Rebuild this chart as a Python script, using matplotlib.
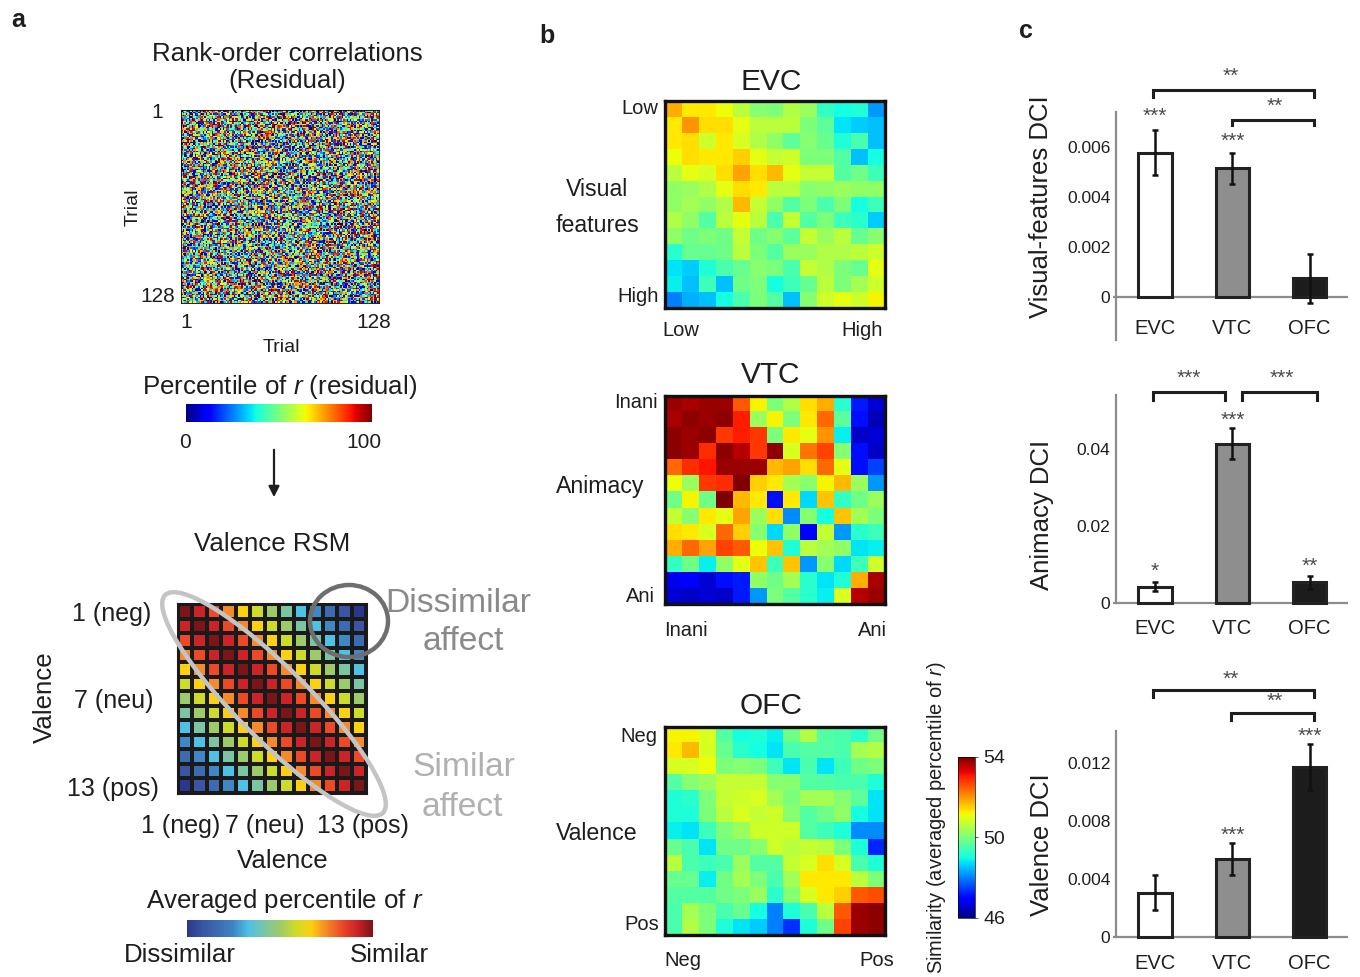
import numpy as np
import matplotlib
matplotlib.use("Agg")
import matplotlib.pyplot as plt
from matplotlib.colors import ListedColormap, LinearSegmentedColormap
from matplotlib.patches import Ellipse

plt.rcParams['font.family'] = ['Liberation Sans', 'DejaVu Sans']
plt.rcParams['mathtext.fontset'] = 'custom'
plt.rcParams['mathtext.rm'] = 'Liberation Sans'
plt.rcParams['mathtext.it'] = 'Liberation Sans:italic'

# ---- data ----
n_trials = 128
valence_levels = np.arange(1, 14)

# RSM colours by valence distance 0..12 (similar -> dissimilar)
rsm_colors = ['#7b1518', '#cc2329', '#ec4a26', '#f6892a', '#fdd10f', '#cddc29',
              '#9dcb6b', '#7cc5a3', '#4ec2e6', '#3f87c7', '#3d6bb2', '#3955a3', '#29388e']

evc = [
    [51.8, 51.3, 51.3, 51.1, 50.6, 50.1, 50.0, 50.5, 50.3, 49.3, 49.0, 49.1, 48.2],
    [51.3, 52.0, 51.4, 51.4, 51.0, 50.6, 50.6, 50.6, 50.0, 49.7, 48.8, 48.6, 48.5],
    [51.3, 51.4, 50.8, 51.3, 50.9, 50.5, 50.2, 49.7, 50.1, 49.8, 49.1, 49.5, 48.5],
    [51.1, 51.4, 51.3, 51.3, 51.5, 51.0, 50.7, 50.8, 50.0, 50.0, 49.6, 48.5, 49.0],
    [50.6, 51.0, 50.9, 51.4, 51.9, 51.4, 51.7, 51.0, 50.7, 50.7, 49.6, 49.9, 49.4],
    [50.2, 50.3, 50.5, 51.0, 51.4, 51.3, 50.6, 50.6, 50.1, 50.2, 50.3, 50.2, 50.2],
    [50.2, 50.4, 50.2, 50.5, 51.7, 50.7, 50.2, 49.6, 50.0, 49.5, 50.0, 49.0, 49.4],
    [50.5, 50.2, 49.6, 50.6, 51.0, 50.6, 49.5, 50.7, 49.6, 50.0, 49.4, 49.2, 48.6],
    [50.2, 49.9, 50.0, 49.9, 50.7, 49.9, 50.1, 49.7, 50.7, 50.3, 50.6, 49.8, 50.1],
    [49.2, 49.8, 49.8, 49.9, 50.6, 50.0, 49.6, 50.3, 50.3, 50.5, 50.5, 50.6, 50.8],
    [48.8, 48.6, 49.1, 49.5, 49.8, 50.1, 50.0, 49.5, 50.7, 50.5, 50.0, 49.8, 51.0],
    [48.9, 48.5, 49.4, 48.5, 49.9, 50.0, 49.0, 49.4, 49.8, 50.6, 50.0, 50.4, 50.8],
    [48.0, 48.4, 48.5, 49.0, 49.5, 50.0, 49.6, 48.5, 50.1, 50.8, 51.0, 50.8, 51.2],
]

vtc = [
    [53.8, 53.7, 53.8, 53.8, 52.5, 51.2, 50.0, 50.5, 51.4, 51.8, 49.2, 47.2, 46.6],
    [53.7, 53.9, 53.8, 53.9, 53.0, 50.3, 51.2, 50.0, 51.3, 52.4, 49.7, 47.1, 46.4],
    [53.9, 53.8, 53.9, 52.8, 53.0, 52.8, 50.0, 51.3, 51.0, 52.0, 48.9, 46.5, 46.6],
    [53.9, 53.8, 52.9, 53.9, 53.6, 52.8, 53.9, 50.9, 52.3, 52.7, 50.1, 47.1, 46.5],
    [52.4, 52.9, 53.1, 53.8, 53.8, 53.8, 51.7, 51.9, 51.4, 52.4, 51.0, 47.1, 47.5],
    [51.1, 50.3, 52.8, 52.9, 54.0, 51.5, 51.3, 50.4, 50.1, 51.2, 51.7, 50.3, 48.2],
    [49.9, 51.2, 49.9, 54.0, 51.7, 51.3, 47.1, 51.3, 48.7, 51.6, 49.3, 49.9, 50.3],
    [50.7, 50.1, 51.3, 51.0, 51.9, 50.3, 51.4, 48.1, 50.1, 49.0, 51.6, 50.4, 50.0],
    [51.4, 51.3, 50.9, 52.4, 51.5, 50.1, 48.7, 50.2, 47.0, 50.7, 48.2, 49.2, 49.4],
    [51.8, 52.4, 51.9, 52.7, 52.5, 51.1, 51.6, 49.1, 50.6, 50.4, 50.2, 48.8, 48.9],
    [49.3, 49.9, 48.9, 50.2, 51.0, 51.6, 49.4, 51.6, 48.2, 50.1, 48.7, 49.4, 50.8],
    [46.8, 46.9, 46.6, 47.1, 47.2, 50.2, 49.9, 50.4, 49.2, 48.8, 49.1, 51.8, 53.7],
    [46.6, 46.5, 46.6, 46.5, 47.2, 48.2, 50.0, 49.6, 49.2, 48.9, 50.9, 53.6, 53.8],
]

ofc = [
    [51.2, 51.2, 50.9, 49.6, 49.0, 49.1, 48.9, 49.9, 50.5, 49.6, 49.5, 49.2, 49.9],
    [51.3, 51.7, 50.9, 49.8, 49.2, 49.0, 48.8, 49.5, 49.6, 49.6, 49.5, 50.4, 50.5],
    [50.9, 50.9, 51.1, 50.0, 50.1, 50.0, 49.4, 48.8, 49.5, 48.8, 49.4, 49.9, 50.0],
    [49.6, 50.1, 50.3, 50.7, 50.7, 50.7, 50.1, 50.1, 49.6, 49.6, 49.5, 49.5, 49.1],
    [49.1, 49.2, 50.0, 50.7, 50.8, 50.9, 50.4, 50.0, 50.4, 50.4, 50.1, 49.7, 48.8],
    [49.1, 49.1, 50.0, 50.6, 50.9, 50.7, 50.8, 50.1, 49.6, 49.9, 50.2, 49.0, 48.8],
    [48.9, 48.8, 49.4, 50.0, 50.3, 50.8, 50.8, 50.8, 49.6, 49.4, 49.1, 48.1, 48.1],
    [49.8, 49.5, 48.8, 49.9, 49.9, 50.1, 50.8, 50.6, 50.7, 50.6, 50.0, 49.1, 47.3],
    [50.6, 49.5, 49.4, 49.5, 50.3, 49.6, 49.6, 50.7, 50.9, 51.4, 50.9, 49.5, 49.1],
    [49.8, 49.8, 48.9, 49.9, 50.4, 50.0, 49.5, 50.4, 51.3, 51.3, 51.3, 50.6, 50.0],
    [49.6, 49.6, 49.6, 49.9, 50.0, 50.3, 49.2, 50.1, 50.9, 51.3, 51.5, 52.5, 52.6],
    [49.5, 50.4, 50.0, 49.5, 49.8, 49.0, 48.0, 49.1, 49.5, 50.6, 52.5, 53.8, 53.9],
    [49.5, 50.5, 50.0, 49.1, 48.8, 48.6, 48.0, 47.4, 49.1, 49.9, 52.7, 53.8, 53.9],
]

regions = ['EVC', 'VTC', 'OFC']
bar_colors = ['white', '#8e8e8e', '#1c1c1c']
visual_dci = [0.00576, 0.00514, 0.00073]
visual_err = [0.00089, 0.00062, 0.00098]
animacy_dci = [0.0043, 0.0413, 0.0055]
animacy_err = [0.0012, 0.0040, 0.0017]
valence_dci = [0.00303, 0.00536, 0.01172]
valence_err = [0.00120, 0.00108, 0.00160]

# ---- layout helpers ----
W, H = 1360, 977
fig = plt.figure(figsize=(W / 100, H / 100), dpi=100)
TXT = '#1e1e1e'


def px_axes(x0, y0, x1, y1):
    return fig.add_axes([x0 / W, 1 - y1 / H, (x1 - x0) / W, (y1 - y0) / H])


# ---- panel a ----
# residual rank-order percentiles (texture built by integer hashing of trial indices)
i, j = np.meshgrid(np.arange(n_trials, dtype=np.int64), np.arange(n_trials, dtype=np.int64),
                   indexing='ij')
h = (i * 73856093) ^ (j * 19349663) ^ ((i * j) * 83492791)
h = (h ^ (h >> 13)) * 1274126177
resid = ((h >> 7) % 101).astype(float)
ax = px_axes(181, 110, 379, 303)
ax.imshow(resid, cmap='jet', aspect='auto', interpolation='nearest', vmin=0, vmax=100)
ax.set_xticks([]); ax.set_yticks([])
for s in ax.spines.values():
    s.set_linewidth(0.6)

grad = np.linspace(0, 1, 256)[None, :]
cb1 = px_axes(186, 404, 371, 422)
cb1.imshow(grad, cmap='jet', aspect='auto')
cb1.set_xticks([]); cb1.set_yticks([])
for s in cb1.spines.values():
    s.set_visible(False)

dist = np.abs(valence_levels[:, None] - valence_levels[None, :])
ax = px_axes(178, 604, 366, 793)
ax.set_facecolor('#1a1a1a')
ax.pcolormesh(dist, cmap=ListedColormap(rsm_colors), vmin=-0.5, vmax=12.5,
              edgecolors='#1a1a1a', linewidth=1.7)
ax.set_xlim(0, 13); ax.set_ylim(13, 0)
ax.set_xticks([]); ax.set_yticks([])
for s in ax.spines.values():
    s.set_linewidth(2.2)
    s.set_color('#1a1a1a')

cb2 = px_axes(187, 920, 372, 937)
cb2.imshow(grad, cmap=LinearSegmentedColormap.from_list('rsm', rsm_colors[::-1]), aspect='auto')
cb2.set_xticks([]); cb2.set_yticks([])
for s in cb2.spines.values():
    s.set_visible(False)

# ---- panel b ----
jet_norm = dict(cmap='jet', vmin=46, vmax=54, interpolation='nearest', aspect='auto')
heat_boxes = [(evc, (665, 101, 885, 308)), (vtc, (665, 396, 885, 604)), (ofc, (665, 727, 885, 935))]
for mat, box in heat_boxes:
    ax = px_axes(*box)
    im = ax.imshow(np.array(mat), **jet_norm)
    ax.set_xticks([]); ax.set_yticks([])
    for s in ax.spines.values():
        s.set_linewidth(2.4)
        s.set_color('#111111')

cax = px_axes(958, 757, 975, 918)
cbar = fig.colorbar(im, cax=cax, ticks=[46, 50, 54])
cbar.outline.set_linewidth(0.5)
cax.tick_params(labelsize=14, length=2, width=0.5, colors=TXT, pad=4)

# ---- panel c ----
def bar_panel(box, vals, errs, ylim, ticks, ticklabels, ybottom_spine, xlab_off):
    ax = px_axes(*box)
    x = np.arange(len(regions))
    ax.bar(x, vals, width=0.43, color=bar_colors, edgecolor='#222222', linewidth=2.2, zorder=2)
    ax.errorbar(x, vals, yerr=errs, fmt='none', ecolor='#111111', elinewidth=1.8,
                capsize=2.5, capthick=1.8, zorder=3)
    ax.axhline(0, color='#8c8c8c', lw=1.6, zorder=1)
    ax.set_xlim(-0.543, 2.495)
    ax.set_ylim(*ylim)
    for k in ['top', 'right', 'bottom']:
        ax.spines[k].set_visible(False)
    ax.spines['left'].set_position(('data', -0.504))
    ax.spines['left'].set_color('#8c8c8c')
    ax.spines['left'].set_linewidth(1.6)
    ax.spines['left'].set_bounds(ybottom_spine, ylim[1])
    ax.set_facecolor('none')
    ax.set_xticks([])
    ax.set_yticks(ticks)
    ax.set_yticklabels(ticklabels)
    ax.tick_params(axis='y', labelsize=12.5, length=0, pad=4, colors=TXT)
    for xi, name in zip(x, regions):
        ax.annotate(name, (xi, 0), xytext=(0, -xlab_off), textcoords='offset pixels',
                    ha='center', va='center', fontsize=14.5, color=TXT, annotation_clip=False)
    return ax


STAR_FS = 15


def star(ax, xi, top, txt, off=10):
    ax.annotate(txt, (xi, top), xytext=(0, off), textcoords='offset pixels', ha='center',
                va='center', fontsize=STAR_FS, color='#4a4a4a', annotation_clip=False)


def bracket(ax, x0, x1, y, ytick, label, xlab, off=14):
    ax.plot([x0, x0, x1, x1], [ytick, y, y, ytick], color='#1e1e1e', lw=2.2, clip_on=False,
            solid_joinstyle='miter')
    ax.annotate(label, (xlab, y), xytext=(0, off), textcoords='offset pixels', ha='center',
                va='center', fontsize=STAR_FS, color='#4a4a4a', annotation_clip=False)


ax1 = bar_panel((1113, 111.7, 1348, 340), visual_dci, visual_err, (-0.001732, 0.0074),
                [0, 0.002, 0.004, 0.006], ['0', '0.002', '0.004', '0.006'], -0.001732, 32)
star(ax1, 0, visual_dci[0] + visual_err[0], '***', 14)
star(ax1, 1, visual_dci[1] + visual_err[1], '***', 11)
bracket(ax1, -0.03, 2.06, 0.00827, 0.0080, '**', 0.98)
bracket(ax1, 0.99, 2.06, 0.00707, 0.00687, '**', 1.55)

ax2 = bar_panel((1113, 395, 1348, 610), animacy_dci, animacy_err, (-0.001736, 0.05396),
                [0, 0.02, 0.04], ['0', '0.02', '0.04'], 0, 25)
star(ax2, 0, animacy_dci[0] + animacy_err[0], '*', 11)
star(ax2, 1, animacy_dci[1] + animacy_err[1], '***', 8)
star(ax2, 2, animacy_dci[2] + animacy_err[2], '**', 9)
bracket(ax2, -0.03, 0.905, 0.0547, 0.0527, '***', 0.44)
bracket(ax2, 1.12, 2.09, 0.0547, 0.0527, '***', 1.64)

ax3 = bar_panel((1113, 731, 1348, 945), valence_dci, valence_err, (-0.000572, 0.014186),
                [0, 0.004, 0.008, 0.012], ['0', '0.004', '0.008', '0.012'], 0, 27)
star(ax3, 1, valence_dci[1] + valence_err[1], '***', 8)
star(ax3, 2, valence_dci[2] + valence_err[2], '***', 7)
bracket(ax3, -0.03, 2.05, 0.01701, 0.01653, '**', 0.98, 11)
bracket(ax3, 0.98, 2.05, 0.01545, 0.01494, '**', 1.55, 11)

# ---- text / overlay ----
ov = fig.add_axes([0, 0, 1, 1])
ov.set_xlim(0, W); ov.set_ylim(H, 0)
ov.axis('off')


def t(x, y, s, fs=18.6, **kw):
    kw.setdefault('color', TXT)
    ov.text(x, y, s, fontsize=fs, ha=kw.pop('ha', 'center'), va=kw.pop('va', 'center'), **kw)


t(18, 20, 'a', 18, weight='bold')
t(547, 36, 'b', 18, weight='bold')
t(1026, 31, 'c', 18, weight='bold')

t(287, 54, 'Rank-order correlations')
t(287, 81, '(Residual)')
t(163, 113, '1', 15, ha='right')
t(175, 297, '128', 15, ha='right')
t(133, 207, 'Trial', 14, rotation=90)
t(186, 322, '1', 15)
t(374, 322, '128', 15)
t(281, 348, 'Trial', 14)
t(280, 387, 'Percentile of $r$ (residual)')
t(185, 442, '0', 15)
t(364, 442, '100', 15)
ov.annotate('', xy=(274, 500), xytext=(274, 447),
            arrowprops=dict(arrowstyle='-|>', color=TXT, lw=1.6, mutation_scale=16))
t(272, 544, 'Valence RSM')
t(112, 614, '1 (neg)', 18)
t(114, 701, '7 (neu)', 18)
t(113, 789, '13 (pos)', 18)
t(45, 697, 'Valence', rotation=90)
t(181, 826, '1 (neg)', 18)
t(265, 826, '7 (neu)', 18)
t(363, 826, '13 (pos)', 18)
t(283, 861, 'Valence')
t(285, 901, 'Averaged percentile of $r$')
t(180, 955, 'Dissimilar')
t(389, 955, 'Similar')

ov.add_patch(Ellipse((274, 704), 308, 72, angle=45, fill=False, ec='#c4c4c4', lw=3.2))
ov.add_patch(Ellipse((349, 621), 78, 72, fill=False, ec='#6e6e6e', lw=3.2))
t(458, 603, 'Dissimilar', 24.2, color='#8a8a8a')
t(463, 642, 'affect', 24.2, color='#8a8a8a')
t(464, 768, 'Similar', 24.2, color='#b0b0b0')
t(462, 807, 'affect', 24.2, color='#b0b0b0')

t(771, 82, 'EVC', 21.5)
t(771, 375, 'VTC', 21.5)
t(771, 706, 'OFC', 21.5)
t(640, 108, 'Low', 14.5)
t(638, 297, 'High', 14.5)
t(597, 189, 'Visual', 16.7)
t(597, 226, 'features', 16.7)
t(681, 331, 'Low', 14.5)
t(862, 331, 'High', 14.5)
t(636, 402, 'Inani', 14.5)
t(640, 597, 'Ani', 14.5)
t(600, 486, 'Animacy', 16.7)
t(686, 630, 'Inani', 14.5)
t(872, 630, 'Ani', 14.5)
t(639, 736, 'Neg', 14.5)
t(642, 925, 'Pos', 14.5)
t(597, 833, 'Valence', 16.7)
t(683, 960, 'Neg', 14.5)
t(877, 960, 'Pos', 14.5)
t(937, 818, 'Similarity (averaged percentile of $r$)', 14.5, rotation=90)

t(1041, 207, 'Visual-features DCI', 18.5, rotation=90)
t(1042, 515, 'Animacy DCI', 18.5, rotation=90)
t(1042, 845, 'Valence DCI', 18.5, rotation=90)

fig.savefig('out.png', dpi=100)
